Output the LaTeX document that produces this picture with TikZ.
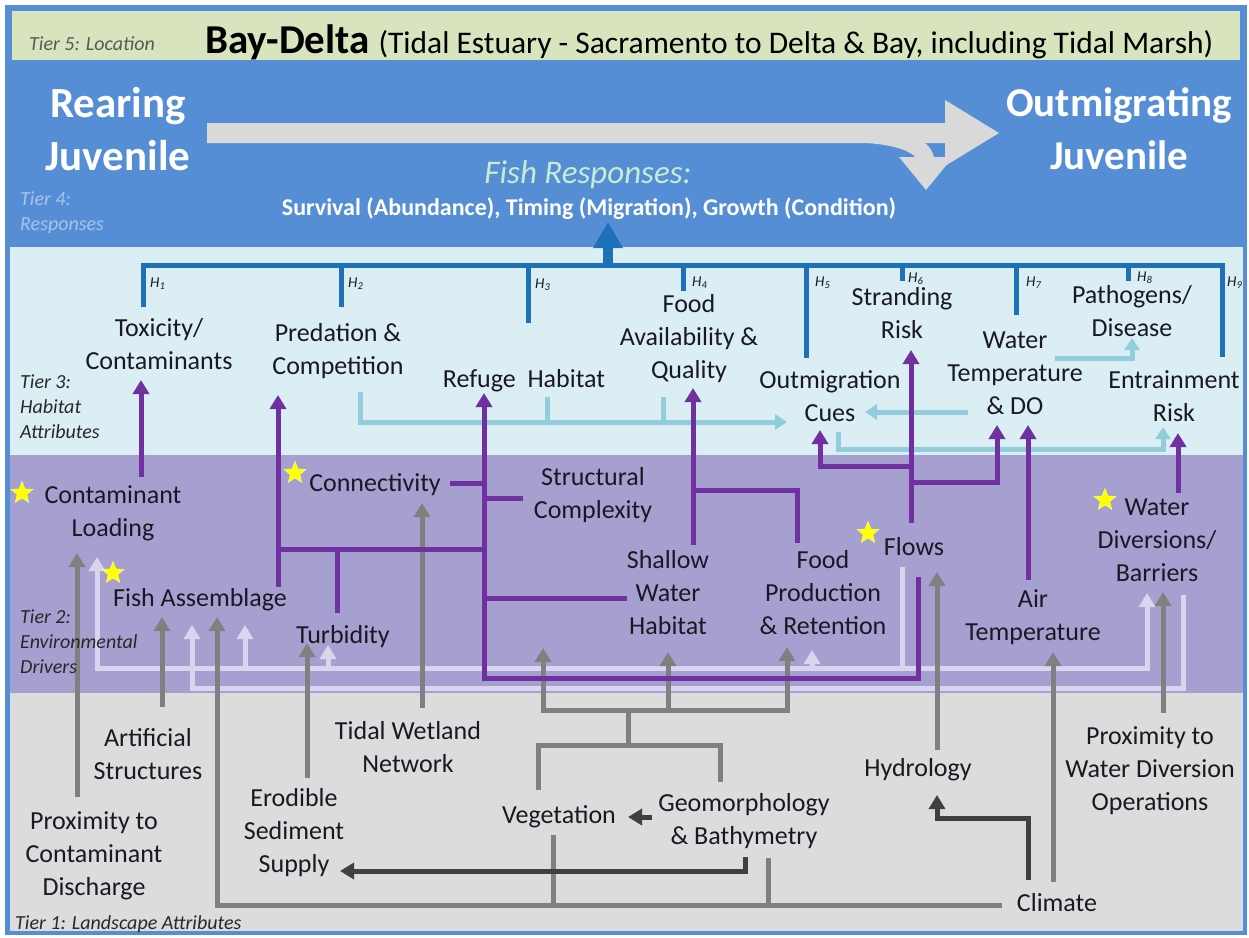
\documentclass[tikz,border=0pt]{standalone}
\usepackage{fontspec}
\setmainfont{Carlito}
\usetikzlibrary{arrows.meta,shapes.geometric}
\definecolor{frameblue}{RGB}{85,142,213}
\definecolor{locband}{RGB}{215,228,189}
\definecolor{habband}{RGB}{219,238,244}
\definecolor{envband}{RGB}{166,160,208}
\definecolor{landband}{RGB}{220,220,220}
\definecolor{dblue}{RGB}{30,112,185}
\definecolor{purp}{RGB}{112,48,160}
\definecolor{lblue}{RGB}{147,205,221}
\definecolor{lav}{RGB}{218,213,238}
\definecolor{gline}{RGB}{128,128,128}
\definecolor{dgline}{RGB}{64,64,64}
\definecolor{bigarrow}{RGB}{217,217,217}
\definecolor{txtc}{RGB}{25,25,35}
\definecolor{tierc}{RGB}{40,40,40}
\definecolor{tiergray}{RGB}{89,89,89}
\definecolor{tierfour}{RGB}{170,195,232}
\definecolor{fishc}{RGB}{200,235,210}
\definecolor{stary}{RGB}{255,255,0}
\begin{document}
\begin{tikzpicture}[x=1pt,y=-1pt,
 txt/.style={font=\fontsize{26}{33}\selectfont, align=center, inner sep=0pt, text=txtc, execute at begin node=\strut, execute at end node=\strut},
 tierlbl/.style={font=\fontsize{20}{25}\selectfont\itshape, align=left, inner sep=0pt, anchor=west, text=tierc, execute at begin node=\strut, execute at end node=\strut},
 hlbl/.style={font=\fontsize{15}{15}\selectfont\itshape, inner sep=0pt, anchor=west, text=txtc},
 big/.style={font=\fontsize{43}{53}\selectfont\bfseries, text=white, align=center, inner sep=0pt, execute at begin node=\strut, execute at end node=\strut},
 tip/.style={-{Triangle[width=16pt,length=14pt]}},
 dbl/.style={draw=dblue, line width=5pt},
 pl/.style={draw=purp, line width=5pt},
 pa/.style={pl, tip},
 lbl/.style={draw=lblue, line width=5pt},
 lba/.style={lbl, -{Triangle[width=15pt,length=12pt]}},
 lvl/.style={draw=lav, line width=5pt},
 lva/.style={lvl, tip},
 gl/.style={draw=gline, line width=5pt},
 ga/.style={gl, tip},
 dgl/.style={draw=dgline, line width=5pt},
 dga/.style={dgl, tip},
 starmark/.style={star, star points=5, star point ratio=2.3, fill=stary, draw=stary!60!white, line width=0.5pt, minimum size=23pt, inner sep=0pt},
]
\useasboundingbox (0,0) rectangle (1249,937);
% bands
\fill[white] (0,0) rectangle (1249,937);
\fill[frameblue] (5,5) rectangle (1247,935);
\fill[locband] (12,11) rectangle (1240,60);
\fill[habband] (10,247) rectangle (1243,455);
\fill[envband] (10,455) rectangle (1243,693);
\fill[landband] (10,693) rectangle (1243,931);

% Tier 5
\node[tierlbl, text=tiergray] (t5) at (29,45) {Tier 5: Location};
\node[anchor=base west, inner sep=0pt, text=black] (title) at (205,53) {\fontsize{41}{41}\selectfont\bfseries Bay-Delta\hspace{9pt}\fontsize{31.5}{31.5}\selectfont\mdseries (Tidal Estuary - Sacramento to Delta \& Bay, including Tidal Marsh)};

% Tier 4
\fill[bigarrow] (207,123) -- (945,123) -- (945,100) -- (999,133) -- (945,166) -- (945,143) -- (207,143) -- cycle;
\draw[bigarrow, line width=17pt] (830,133) .. controls (885,133) and (922,140) .. (926,160);
\fill[bigarrow] (899,157) -- (953,157) -- (926,190) -- cycle;
\node[big] (rear) at (118,137) {Rearing\\Juvenile};
\node[big, font=\fontsize{41}{53}\selectfont\bfseries] (outm) at (1119,137) {Outmigrating\\Juvenile};
\node[tierlbl, text=tierfour] (t4) at (20,215) {Tier 4:\\Responses};
\node[font=\fontsize{33}{33}\selectfont\itshape, text=fishc, inner sep=0pt] (fishresp) at (588,175) {Fish Responses:};
\node[font=\fontsize{24}{24}\selectfont\bfseries, text=white, inner sep=0pt] (surv) at (589,209) {Survival (Abundance), Timing (Migration), Growth (Condition)};

% light blue connectors (tier 3)
\draw[lba] (360,392) -- (360,422) -- (787,422);
\draw[lbl] (547,397) -- (547,422);
\draw[lbl] (663,397) -- (663,422);
\draw[lba] (968,412) -- (865,412);
\draw[lba] (1055,358) -- (1132,358) -- (1132,338);
\draw[lba] (838,432) -- (838,449) -- (1163,449) -- (1163,427);

% lavender connectors
\draw[lva] (902,567) -- (902,668) -- (97,668) -- (97,557);
\draw[lva] (902,668) -- (1147,668) -- (1147,593);
\draw[lva] (245,668) -- (245,625);
\draw[lva] (328,668) -- (328,645);
\draw[lva] (812,668) -- (812,650);
\draw[lva] (1183,595) -- (1183,688) -- (192,688) -- (192,625);

% gray connectors
\draw[ga] (77,797) -- (77,553);
\draw[ga] (162,707) -- (162,617);
\draw[ga] (1002,905) -- (217,905) -- (217,617);
\draw[gl] (553,835) -- (553,905);
\draw[gl] (768,858) -- (768,905);
\draw[ga] (307,778) -- (307,643);
\draw[ga] (422,708) -- (422,503);
\draw[gl] (538,790) -- (538,745) -- (720,745) -- (720,782);
\draw[gl] (628,745) -- (628,710);
\draw[ga] (628,710) -| (543,648);
\draw[ga] (628,710) -| (787,647);
\draw[ga] (668,710) -- (668,652);
\draw[ga] (937,750) -- (937,572);
\draw[ga] (1053,882) -- (1053,652);
\draw[ga] (1163,713) -- (1163,592);
% dark gray
\draw[dga] (652,817) -- (628,817);
\draw[dga] (745,857) -- (745,871) -- (340,871);
\draw[dga] (1028,880) -- (1028,818) -- (937,818) -- (937,795);

% purple connectors
\draw[pa] (141,477) -- (141,380);
\draw[pa] (278,587) -- (278,395);
\draw[pl] (278,549) -- (484,549);
\draw[pl] (337,549) -- (337,613);
\draw[pa] (918,577) -- (918,678) -- (484,678) -- (484,393);
\draw[pl] (450,483) -- (484,483);
\draw[pl] (484,498) -- (523,498);
\draw[pl] (484,598) -- (627,598);
\draw[pa] (693,545) -- (693,388);
\draw[pl] (693,490) -- (797,490) -- (797,543);
\draw[pa] (911,523) -- (911,350);
\draw[pa] (911,466) -- (820,466) -- (820,430);
\draw[pa] (911,482) -- (997,482) -- (997,425);
\draw[pa] (1028,580) -- (1028,425);
\draw[pa] (1178,493) -- (1178,433);

% dark blue bracket
\draw[dbl] (143,307) -- (143,265) -- (1222,265) -- (1222,357);
\draw[dbl] (341,265) -- (341,307);
\draw[dbl] (528,265) -- (528,323);
\draw[dbl] (683,265) -- (683,291);
\draw[dbl] (806,265) -- (806,358);
\draw[dbl] (902,265) -- (902,281);
\draw[dbl] (1016,265) -- (1016,315);
\draw[dbl] (1128,265) -- (1128,281);
\draw[dblue, line width=10pt, -{Triangle[width=28pt,length=26pt]}] (608,266) -- (608,222);

% H labels
\node[hlbl] (h1) at (150,284) {H\textsubscript{1}};
\node[hlbl] (h2) at (348,284) {H\textsubscript{2}};
\node[hlbl] (h3) at (535,285) {H\textsubscript{3}};
\node[hlbl] (h4) at (692,283) {H\textsubscript{4}};
\node[hlbl] (h5) at (815,283) {H\textsubscript{5}};
\node[hlbl] (h6) at (908,279) {H\textsubscript{6}};
\node[hlbl] (h7) at (1026,283) {H\textsubscript{7}};
\node[hlbl] (h8) at (1137,278) {H\textsubscript{8}};
\node[hlbl] (h9) at (1227,283) {H\textsubscript{9}};

% Tier 3
\node[tierlbl] (t3) at (20,410) {Tier 3:\\Habitat\\Attributes};
\node[txt] (tox) at (159,349) {Toxicity/\\Contaminants};
\node[txt] (pred) at (338,354) {Predation \&\\Competition};
\node[txt] (ref) at (524,381) {Refuge\hspace{0.45em}Habitat};
\node[txt] (food) at (689,341) {Food\\Availability \&\\Quality};
\node[txt] (cues) at (830,401) {Outmigration\\Cues};
\node[txt] (strand) at (902,318) {Stranding\\Risk};
\node[txt] (wtemp) at (1015,378) {Water\\Temperature\\\& DO};
\node[txt] (path) at (1132,316) {Pathogens/\\Disease};
\node[txt] (entr) at (1174,401) {Entrainment\\Risk};

% Tier 2
\node[tierlbl] (t2) at (20,645) {Tier 2:\\Environmental\\Drivers};
\node[txt] (cload) at (113,516) {Contaminant\\Loading};
\node[txt] (fish) at (200,600) {Fish Assemblage};
\node[txt] (conn) at (375,485) {Connectivity};
\node[txt] (struct) at (593,498) {Structural\\Complexity};
\node[txt] (turb) at (343,637) {Turbidity};
\node[txt] (shallow) at (668,597) {Shallow\\Water\\Habitat};
\node[txt] (foodprod) at (823,597) {Food\\Production\\\& Retention};
\node[txt] (flows) at (914,549) {Flows};
\node[txt] (airt) at (1033,620) {Air\\Temperature};
\node[txt] (wdiv) at (1157,545) {Water\\Diversions/\\Barriers};

% Tier 1
\node[tierlbl] (t1) at (15,924) {Tier 1: Landscape Attributes};
\node[txt] (artif) at (148,759) {Artificial\\Structures};
\node[txt] (proxc) at (94,858) {Proximity to\\Contaminant\\Discharge};
\node[txt] (erod) at (294,835) {Erodible\\Sediment\\Supply};
\node[txt] (tidal) at (408,752) {Tidal Wetland\\Network};
\node[txt] (veg) at (559,817) {Vegetation};
\node[txt] (geo) at (744,824) {Geomorphology\\\& Bathymetry};
\node[txt] (hydro) at (918,770) {Hydrology};
\node[txt] (proxw) at (1150,773) {Proximity to\\Water Diversion\\Operations};
\node[txt] (climate) at (1057,905) {Climate};

% stars
\node[starmark] (s1) at (22,493) {};
\node[starmark] (s2) at (113,573) {};
\node[starmark] (s3) at (295,473) {};
\node[starmark] (s4) at (868,533) {};
\node[starmark] (s5) at (1105,500) {};
\end{tikzpicture}
\end{document}
